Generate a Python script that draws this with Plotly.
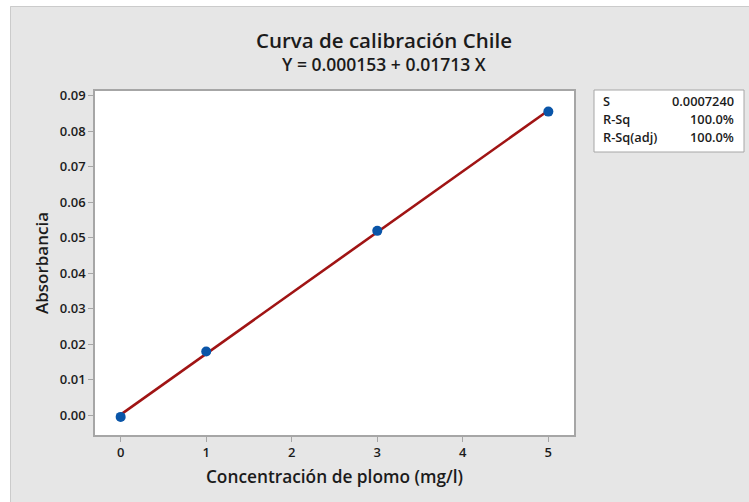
import plotly.graph_objects as go

# Calibration data: lead concentration (mg/l) vs absorbance
concentracion = [0, 1, 3, 5]
absorbancia = [-0.0005, 0.0179, 0.0519, 0.0855]

# Fitted regression line Y = b0 + b1 X
b0 = 0.000153
b1 = 0.01713
linea_x = [0, 5]

# Summary statistics of the fit
stat_names = ["S", "R-Sq", "R-Sq(adj)"]
stat_values = ["0.0007240", "100.0%", "100.0%"]

x_ticks = [0, 1, 2, 3, 4, 5]
y_ticks = [0.00, 0.01, 0.02, 0.03, 0.04, 0.05, 0.06, 0.07, 0.08, 0.09]

W, H = 749, 502
L, R, T, B = 95, 574, 91, 435  # plot area in pixels


def px(xp):
    return (xp - L) / (R - L)


def py(yp):
    return (B - yp) / (B - T)


FONT = "Open Sans, Noto Sans, DejaVu Sans, sans-serif"
TXT = "#1b1b1b"
FRAME = "#a6a6a6"

fig = go.Figure()

fig.add_trace(go.Scatter(
    x=linea_x,
    y=[b0 + b1 * v for v in linea_x],
    mode="lines",
    line=dict(color="#a01414", width=2.6),
    hoverinfo="skip",
    showlegend=False,
))

fig.add_trace(go.Scatter(
    x=concentracion,
    y=absorbancia,
    mode="markers",
    marker=dict(color="#0a55a8", size=10),
    showlegend=False,
))

shapes = [
    # white margin strips outside the grey panel
    dict(type="rect", xref="paper", yref="paper", layer="below",
         x0=px(-5), x1=px(10), y0=py(W + 20), y1=py(-5),
         fillcolor="white", line=dict(width=0)),
    dict(type="rect", xref="paper", yref="paper", layer="below",
         x0=px(-5), x1=px(W + 20), y0=py(6), y1=py(-5),
         fillcolor="white", line=dict(width=0)),
    # panel border
    dict(type="line", xref="paper", yref="paper",
         x0=px(10.5), x1=px(W + 20), y0=py(6.5), y1=py(6.5),
         line=dict(color="#cbcbcb", width=1)),
    dict(type="line", xref="paper", yref="paper",
         x0=px(10.5), x1=px(10.5), y0=py(6.5), y1=py(W + 20),
         line=dict(color="#cbcbcb", width=1)),
    # statistics box
    dict(type="rect", xref="paper", yref="paper",
         x0=px(594), x1=px(744), y0=py(152), y1=py(90),
         fillcolor="white", line=dict(color=FRAME, width=1)),
]

annotations = [
    dict(text="Curva de calibración Chile", x=px(384), y=py(40),
         xref="paper", yref="paper", showarrow=False,
         xanchor="center", yanchor="middle",
         font=dict(family=FONT, size=20.5, color=TXT, weight=600)),
    dict(text=f"Y = {b0:.6f} + {b1:.5f} X", x=px(384), y=py(64),
         xref="paper", yref="paper", showarrow=False,
         xanchor="center", yanchor="middle",
         font=dict(family=FONT, size=17.5, color=TXT, weight=600)),
]

row_y = [101, 119, 137]
for name, val, ry in zip(stat_names, stat_values, row_y):
    annotations.append(dict(text=name, x=px(601), y=py(ry), xref="paper", yref="paper",
                            showarrow=False, xanchor="left", yanchor="middle",
                            font=dict(family=FONT, size=12.8, color=TXT, weight=600)))
    annotations.append(dict(text=val, x=px(736), y=py(ry), xref="paper", yref="paper",
                            showarrow=False, xanchor="right", yanchor="middle",
                            font=dict(family=FONT, size=12.8, color=TXT, weight=600)))

fig.update_layout(
    width=W, height=H,
    margin=dict(l=L, r=W - R, t=T, b=H - B, pad=0),
    paper_bgcolor="#e6e6e6",
    plot_bgcolor="white",
    font=dict(family=FONT, color=TXT),
    shapes=shapes,
    annotations=annotations,
    xaxis=dict(
        range=[-0.3, 5.3], tickvals=x_ticks,
        showgrid=False, zeroline=False,
        showline=True, linecolor=FRAME, linewidth=1.5, mirror=True,
        ticks="outside", ticklen=5, tickcolor=FRAME,
        tickfont=dict(family=FONT, size=13, color=TXT, weight=600),
        title=dict(text="Concentración de plomo (mg/l)", standoff=11,
                   font=dict(family=FONT, size=17.3, color=TXT, weight=600)),
    ),
    yaxis=dict(
        range=[-0.0056, 0.0913], tickvals=y_ticks, tickformat=".2f",
        showgrid=False, zeroline=False,
        showline=True, linecolor=FRAME, linewidth=1.5, mirror=True,
        ticks="outside", ticklen=5, tickcolor=FRAME,
        tickfont=dict(family=FONT, size=13, color=TXT, weight=600),
        title=dict(text="Absorbancia", standoff=7,
                   font=dict(family=FONT, size=17, color=TXT, weight=600)),
    ),
)

fig.write_html("out.html")
